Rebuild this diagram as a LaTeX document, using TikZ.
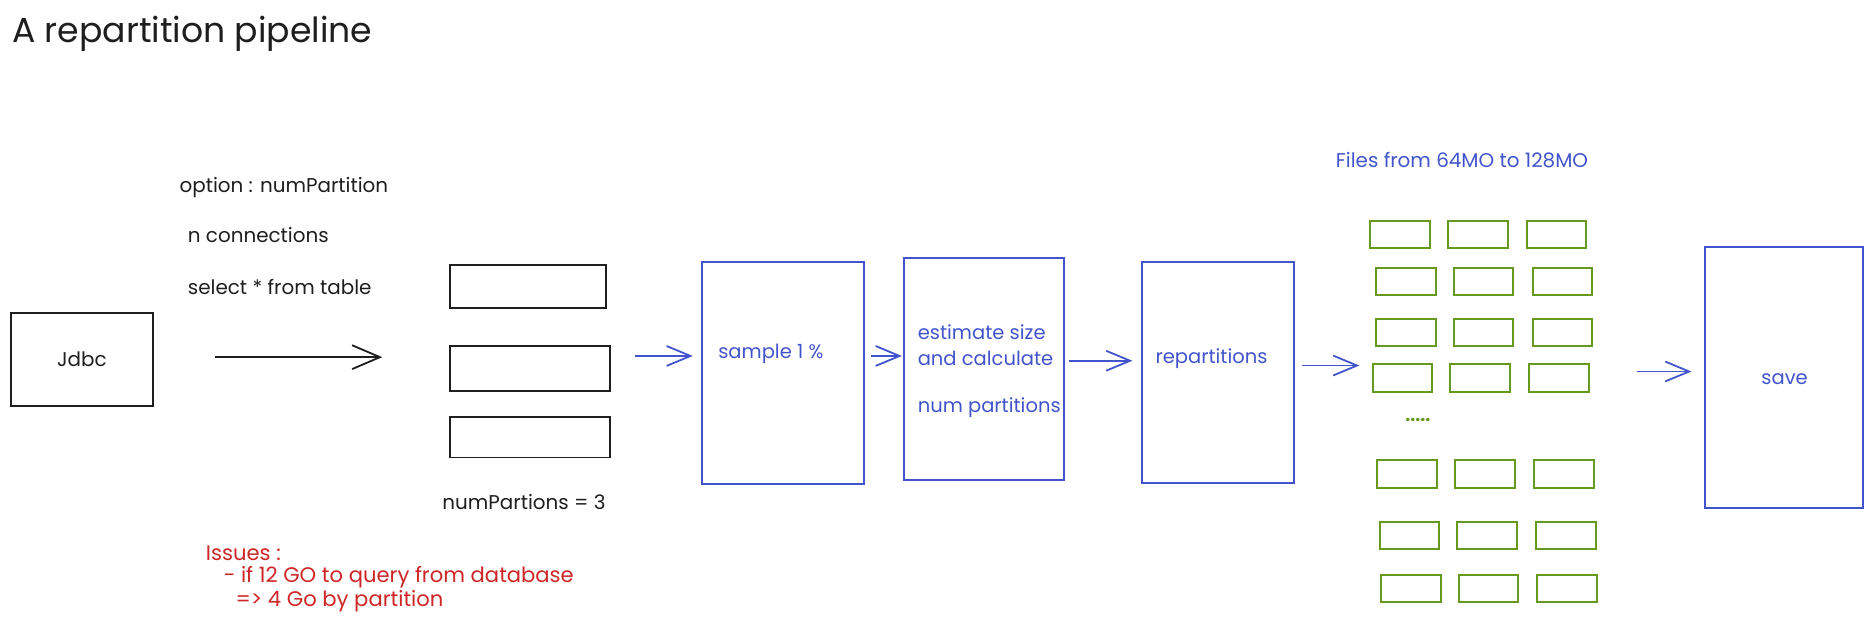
\documentclass[tikz,border=0pt]{standalone}
\usepackage{fontspec}
\setmainfont{Poppins}
\usetikzlibrary{arrows.meta}
\definecolor{exblue}{RGB}{66,84,204}
\definecolor{exgreen}{RGB}{102,153,30}
\definecolor{exred}{RGB}{206,38,38}
\definecolor{exblack}{RGB}{30,30,30}
\begin{document}
\begin{tikzpicture}[x=0.6pt,y=-0.6pt,
  box/.style={draw,rectangle,line width=1pt,inner sep=0pt},
  bbox/.style={box,draw=exblack},
  blbox/.style={box,draw=exblue},
  gbox/.style={box,draw=exgreen,minimum width=30pt,minimum height=13.8pt},
  txt/.style={anchor=west,inner sep=0pt,font=\fontsize{10}{12}\selectfont},
  btxt/.style={txt,text=exblack},
  bltxt/.style={txt,text=exblue,font=\fontsize{9.8}{12}\selectfont},
  rtxt/.style={txt,text=exred,font=\fontsize{10.6}{12}\selectfont},
  blackarrow/.style={draw=exblack,line width=0.9pt,-{Straight Barb[length=14pt,width=12pt,line width=0.9pt]}},
  bluearrow/.style={draw=exblue,line width=0.9pt,-{Straight Barb[length=12pt,width=10pt,line width=0.9pt]}}]
\useasboundingbox (0,0) rectangle (1568,522);

% title
\node[txt,text=exblack,font=\fontsize{17.4}{20}\selectfont] (title) at (10,28) {A repartition pipeline};

% Jdbc
\node[bbox,minimum width=71.4pt,minimum height=46.8pt] (jdbc) at (68.5,301) {};
\node[btxt,anchor=center] (jdbct) at (68.5,301) {Jdbc};
\coordinate (a0s) at (180,299);
\coordinate (a0e) at (320,299);
\draw[blackarrow] (a0s) -- (a0e);

\node[btxt] (topt) at (150,157) {option : numPartition};
\node[btxt] (tconn) at (157,197) {n connections};
\node[btxt] (tsel) at (157,240) {select * from table};

% partitions
\node[bbox,minimum width=78pt,minimum height=21.6pt] (p1) at (442,240) {};
\node[bbox,minimum width=80.4pt,minimum height=22.2pt] (p2) at (444,308.5) {};
\node[bbox,minimum width=80.4pt,minimum height=20.4pt] (p3) at (444,366) {};
\node[btxt] (tnum) at (370,420) {numPartions = 3};

% issues
\node[rtxt] (iss1) at (172,463) {Issues :};
\node[rtxt] (iss2) at (187,483) {- if 12 GO to query from database};
\node[rtxt] (iss3) at (197,503) {=> 4 Go by partition};

% blue boxes
\node[blbox,minimum width=81pt,minimum height=111.6pt] (sample) at (655.5,312) {};
\node[bltxt] (samplet) at (601,296) {sample 1 \%};
\node[blbox,minimum width=80.4pt,minimum height=111.6pt] (est) at (824,309) {};
\node[bltxt] (est1) at (768,278) {estimate size};
\node[bltxt] (est2) at (768,300) {and calculate};
\node[bltxt] (est3) at (768,341) {num partitions};
\node[blbox,minimum width=76.2pt,minimum height=111pt] (rep) at (1019.5,311.5) {};
\node[bltxt] (rept) at (967,300) {repartitions};
\node[blbox,minimum width=79.8pt,minimum height=130.8pt] (save) at (1493.5,316) {};
\node[bltxt,anchor=center] (savet) at (1494,317) {save};

% arrows
\coordinate (b1s) at (532,298); \coordinate (b1e) at (580,298);
\coordinate (b2s) at (729,298); \coordinate (b2e) at (755,298);
\coordinate (b3s) at (895,302); \coordinate (b3e) at (948,302);
\coordinate (b4s) at (1090,306); \coordinate (b4e) at (1138,306);
\coordinate (b5s) at (1370,311); \coordinate (b5e) at (1416,311);
\draw[bluearrow] (b1s) -- (b1e);
\draw[bluearrow] (b2s) -- (b2e);
\draw[bluearrow] (b3s) -- (b3e);
\draw[bluearrow] (b4s) -- (b4e);
\draw[bluearrow] (b5s) -- (b5e);

% files
\node[bltxt,font=\fontsize{10}{12}\selectfont] (files) at (1118,134) {Files from 64MO to 128MO};
\foreach \r/\y/\dx in {1/196.5/0, 2/235.5/5, 3/278.5/5, 4/316.5/2, 5/397/6, 6/448.5/8, 7/492.5/9}{
  \foreach \c/\x in {1/1172, 2/1237, 3/1303}{
    \node[gbox] (g\r\c) at (\x+\dx,\y) {};
  }
}
\node[txt,anchor=center,text=exgreen,font=\fontsize{9}{11}\selectfont\bfseries] (dots) at (1187,352) {.....};
\end{tikzpicture}
\end{document}
